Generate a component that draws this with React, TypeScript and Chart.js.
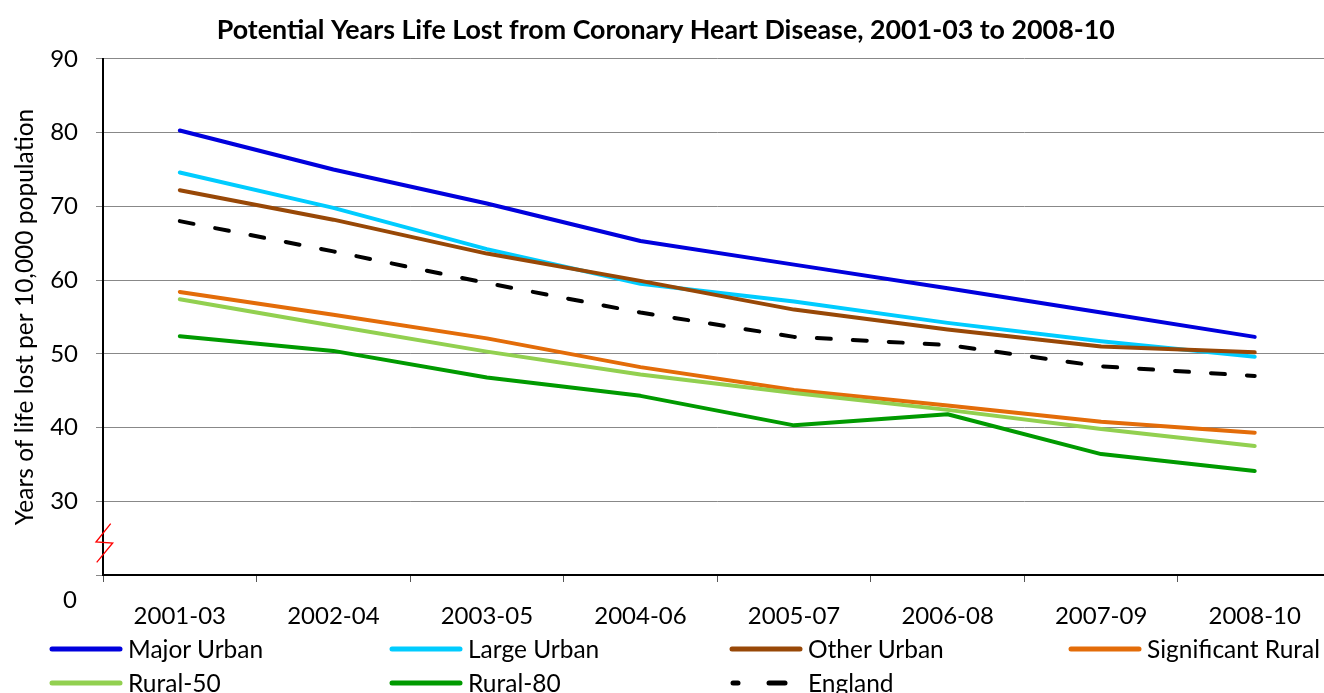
import React, { useEffect, useRef } from "react";
import { Chart, registerables } from "chart.js";

Chart.register(...registerables);

const titleText = "Potential Years Life Lost from Coronary Heart Disease, 2001-03 to 2008-10";
const yAxisTitle = "Years of life lost per 10,000 population";
const categories = ["2001-03", "2002-04", "2003-05", "2004-06", "2005-07", "2006-08", "2007-09", "2008-10"];

const majorUrban = [80.3, 75.0, 70.4, 65.3, 62.1, 58.9, 55.6, 52.3];
const largeUrban = [74.6, 69.8, 64.2, 59.5, 57.1, 54.2, 51.7, 49.6];
const otherUrban = [72.2, 68.2, 63.6, 59.9, 56.0, 53.3, 51.0, 50.2];
const significantRural = [58.4, 55.3, 52.1, 48.2, 45.1, 43.0, 40.8, 39.3];
const rural50 = [57.4, 53.8, 50.3, 47.2, 44.7, 42.4, 39.8, 37.5];
const rural80 = [52.4, 50.4, 46.8, 44.3, 40.3, 41.8, 36.4, 34.1];
const england = [68.0, 63.9, 59.6, 55.6, 52.3, 51.2, 48.3, 47.0];

const seriesNames = ["Major Urban", "Large Urban", "Other Urban", "Significant Rural", "Rural-50", "Rural-80", "England"];
const seriesColors = ["#0000DD", "#00CCFF", "#984807", "#E36C09", "#92D050", "#009A00", "#000000"];
const seriesDashed = [false, false, false, false, false, false, true];
const seriesValues = [majorUrban, largeUrban, otherUrban, significantRural, rural50, rural80, england];

const yMin = 20;
const yMax = 90;
const yStep = 10;
const yBreakLabel = "0";

const FONT = "Lato, 'Open Sans', sans-serif";

const CANVAS_W = 1340;
const CANVAS_H = 693;

const legendCols = [51, 391, 731, 1070];
const legendRows = [649, 683];

const extrasPlugin = {
  id: "extras",
  afterDraw(chart: any) {
    const { ctx, chartArea } = chart;
    const left = chartArea.left;
    const bottom = chartArea.bottom;
    ctx.save();
    // axis break symbol
    ctx.strokeStyle = "#FF0000";
    ctx.lineWidth = 1.3;
    ctx.beginPath();
    ctx.moveTo(left + 7.7, bottom - 51.3);
    ctx.lineTo(left - 7, bottom - 33);
    ctx.lineTo(left + 9.7, bottom - 32);
    ctx.lineTo(left - 6.3, bottom - 12.6);
    ctx.stroke();
    // "0" label below the broken axis
    ctx.fillStyle = "#000";
    ctx.font = `24px ${FONT}`;
    ctx.textAlign = "right";
    ctx.textBaseline = "middle";
    ctx.fillText(yBreakLabel, left - 26, bottom + 25);
    ctx.restore();
  },
};

export default function App() {
  const ref = useRef<HTMLCanvasElement | null>(null);

  useEffect(() => {
    if (!ref.current) return;
    const n = seriesNames.length;
    const chart = new Chart(ref.current, {
      type: "line",
      data: {
        labels: categories,
        datasets: seriesNames.map((name, i) => ({
          label: name,
          data: seriesValues[i],
          borderColor: seriesColors[i],
          backgroundColor: seriesColors[i],
          borderWidth: 4,
          borderDash: seriesDashed[i] ? [14, 22] : [],
          borderCapStyle: "round",
          borderJoinStyle: "round",
          pointRadius: 0,
          pointHoverRadius: 0,
          tension: 0,
          fill: false,
          order: n - i,
        })),
      },
      options: {
        responsive: false,
        animation: false,
        layout: { padding: { left: 0, right: 8.5, top: 0, bottom: 0 } },
        plugins: {
          legend: { display: false },
          tooltip: { enabled: false },
          title: {
            display: true,
            text: titleText,
            color: "#000",
            font: { family: FONT, size: 26.8, weight: "bold" },
            padding: { top: 14, bottom: 12.8 },
          },
        },
        scales: {
          x: {
            offset: true,
            grid: {
              offset: true,
              drawOnChartArea: false,
              drawTicks: true,
              tickLength: 7,
              tickColor: "#555",
            },
            border: { display: true, color: "#000", width: 2 },
            ticks: {
              color: "#000",
              font: { family: FONT, size: 24 },
              padding: 20,
              maxRotation: 0,
              autoSkip: false,
            },
            afterFit: (scale: any) => {
              scale.height = 118;
            },
          },
          y: {
            min: yMin,
            max: yMax,
            grid: {
              color: "#888",
              lineWidth: 1,
              drawTicks: true,
              tickLength: 7,
              tickColor: "#888",
            },
            border: { display: true, color: "#000", width: 2 },
            ticks: {
              stepSize: yStep,
              color: "#000",
              font: { family: FONT, size: 24 },
              padding: 18,
              callback: (v: any) => (v === yMin ? "" : String(v)),
            },
            title: {
              display: true,
              text: yAxisTitle,
              color: "#000",
              font: { family: FONT, size: 24.5 },
              padding: { top: 10, bottom: 0 },
            },
            afterFit: (scale: any) => {
              scale.width = 103;
            },
          },
        },
      },
      plugins: [extrasPlugin],
    });
    return () => chart.destroy();
  }, []);

  return (
    <div
      style={{
        position: "fixed",
        left: 0,
        top: 0,
        width: 1324,
        height: 693,
        overflow: "hidden",
        background: "#fff",
        fontFamily: FONT,
      }}
    >
      <canvas ref={ref} width={CANVAS_W} height={CANVAS_H} style={{ position: "absolute", left: 0, top: 0 }} />
      {seriesNames.map((name, i) => {
        const col = legendCols[i % 4];
        const row = legendRows[Math.floor(i / 4)];
        return (
          <div key={name}>
            <svg
              width={74}
              height={12}
              style={{ position: "absolute", left: col - 2, top: row - 6 }}
            >
              {seriesDashed[i] ? (
                <>
                  <line x1={4} y1={6} x2={9} y2={6} stroke={seriesColors[i]} strokeWidth={5} strokeLinecap="round" />
                  <line x1={40} y1={6} x2={56} y2={6} stroke={seriesColors[i]} strokeWidth={5} strokeLinecap="round" />
                </>
              ) : (
                <line x1={3} y1={6} x2={71} y2={6} stroke={seriesColors[i]} strokeWidth={5} strokeLinecap="round" />
              )}
            </svg>
            <div
              style={{
                position: "absolute",
                left: col + 77,
                top: row - 15,
                height: 30,
                lineHeight: "30px",
                fontSize: 24.5,
                color: "#000",
                whiteSpace: "nowrap",
              }}
            >
              {name}
            </div>
          </div>
        );
      })}
    </div>
  );
}
